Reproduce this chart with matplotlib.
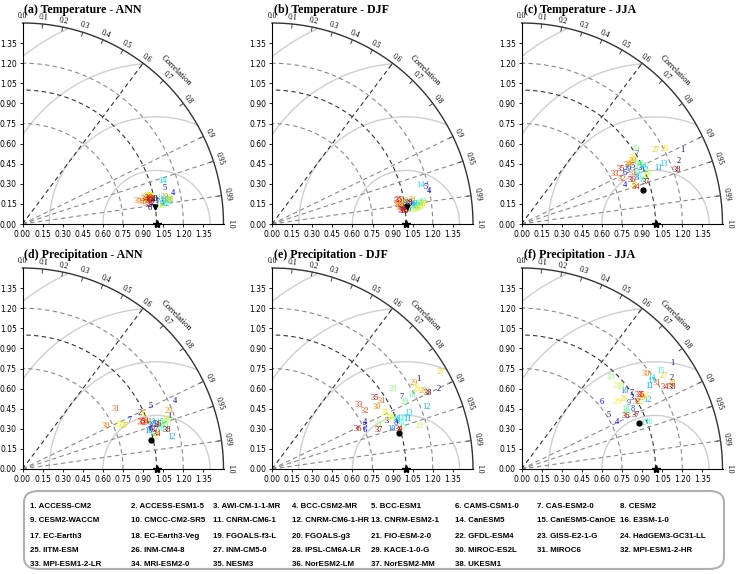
import numpy as np
import matplotlib.pyplot as plt
from matplotlib.patches import FancyBboxPatch

# ---- data: normalised std and correlation of 38 CMIP6 models vs. obs ----
models = ["ACCESS-CM2", "ACCESS-ESM1-5", "AWI-CM-1-1-MR", "BCC-CSM2-MR", "BCC-ESM1",
          "CAMS-CSM1-0", "CAS-ESM2-0", "CESM2", "CESM2-WACCM", "CMCC-CM2-SR5",
          "CNRM-CM6-1", "CNRM-CM6-1-HR", "CNRM-ESM2-1", "CanESM5", "CanESM5-CanOE",
          "E3SM-1-0", "EC-Earth3", "EC-Earth3-Veg", "FGOALS-f3-L", "FGOALS-g3",
          "FIO-ESM-2-0", "GFDL-ESM4", "GISS-E2-1-G", "HadGEM3-GC31-LL", "IITM-ESM",
          "INM-CM4-8", "INM-CM5-0", "IPSL-CM6A-LR", "KACE-1-0-G", "MIROC-ES2L",
          "MIROC6", "MPI-ESM1-2-HR", "MPI-ESM1-2-LR", "MRI-ESM2-0", "NESM3",
          "NorESM2-LM", "NorESM2-MM", "UKESM1"]

titles = ["(a) Temperature - ANN", "(b) Temperature - DJF", "(c) Temperature - JJA",
          "(d) Precipitation - ANN", "(e) Precipitation - DJF", "(f) Precipitation - JJA"]

tas_ann_std = [1.014, 0.983, 0.960, 1.144, 1.094, 0.958, 1.023, 0.977, 1.051, 0.997,
               1.064, 1.080, 1.075, 1.093, 1.103, 1.048, 1.082, 1.093, 1.107, 0.957,
               1.030, 1.058, 0.971, 0.938, 0.963, 0.983, 0.942, 1.115, 1.079, 0.877,
               0.904, 0.942, 0.967, 0.930, 0.955, 0.959, 0.972, 0.998]
tas_ann_cor = [0.986, 0.987, 0.989, 0.979, 0.969, 0.992, 0.987, 0.983, 0.990, 0.983,
               0.987, 0.990, 0.986, 0.956, 0.988, 0.983, 0.989, 0.988, 0.985, 0.982,
               0.990, 0.992, 0.978, 0.981, 0.976, 0.977, 0.977, 0.987, 0.983, 0.981,
               0.984, 0.987, 0.982, 0.979, 0.984, 0.980, 0.988, 0.982]

tas_djf_std = [1.008, 0.987, 0.965, 1.197, 1.181, 1.026, 1.040, 1.001, 1.058, 0.980,
               1.071, 1.089, 1.052, 1.147, 1.078, 1.037, 1.100, 1.112, 1.133, 1.107,
               1.015, 1.066, 0.983, 0.962, 1.128, 1.086, 1.140, 1.056, 1.005, 0.958,
               0.942, 0.969, 0.955, 0.995, 0.967, 0.976, 1.005, 1.033]
tas_djf_cor = [0.992, 0.993, 0.995, 0.978, 0.973, 0.994, 0.991, 0.989, 0.992, 0.990,
               0.990, 0.992, 0.988, 0.968, 0.993, 0.993, 0.991, 0.990, 0.989, 0.994,
               0.995, 0.995, 0.987, 0.988, 0.993, 0.995, 0.991, 0.985, 0.985, 0.992,
               0.987, 0.991, 0.984, 0.995, 0.982, 0.994, 0.995, 0.988]

tas_jja_std = [1.320, 1.261, 0.975, 0.823, 0.935, 0.859, 1.005, 0.925, 0.899, 0.895,
               1.103, 1.003, 1.152, 0.997, 0.944, 0.959, 0.942, 0.988, 0.979, 1.018,
               0.958, 0.997, 1.014, 0.889, 0.964, 1.208, 1.141, 0.927, 0.954, 0.904,
               0.913, 0.823, 0.792, 0.895, 0.846, 0.884, 0.976, 1.227]
tas_jja_cor = [0.909, 0.928, 0.903, 0.936, 0.888, 0.897, 0.856, 0.930, 0.890, 0.883,
               0.925, 0.917, 0.920, 0.902, 0.911, 0.939, 0.924, 0.890, 0.894, 0.835,
               0.877, 0.933, 0.927, 0.945, 0.861, 0.886, 0.876, 0.874, 0.870, 0.874,
               0.909, 0.911, 0.884, 0.950, 0.875, 0.928, 0.948, 0.945]

pr_ann_std = [1.170, 0.971, 1.006, 1.249, 1.064, 1.006, 0.881, 1.037, 0.981, 0.981,
              1.053, 1.135, 1.022, 1.007, 1.078, 1.073, 1.107, 1.091, 1.107, 1.036,
              1.148, 1.019, 0.810, 1.132, 0.783, 0.989, 0.825, 0.994, 1.172, 0.702,
              0.829, 0.953, 0.979, 1.033, 0.956, 1.066, 1.032, 1.118]
pr_ann_cor = [0.940, 0.901, 0.945, 0.913, 0.897, 0.954, 0.908, 0.945, 0.938, 0.958,
              0.950, 0.978, 0.939, 0.963, 0.946, 0.960, 0.949, 0.953, 0.957, 0.965,
              0.950, 0.972, 0.913, 0.945, 0.907, 0.910, 0.921, 0.936, 0.930, 0.890,
              0.844, 0.934, 0.930, 0.968, 0.931, 0.948, 0.960, 0.966]

pr_djf_std = [1.279, 1.375, 0.928, 0.774, 0.761, 0.748, 1.108, 0.981, 1.007, 0.939,
              1.076, 1.239, 1.103, 1.005, 1.051, 1.022, 1.018, 1.176, 1.109, 1.079,
              0.865, 1.146, 0.953, 0.968, 0.939, 1.235, 1.454, 1.268, 1.238, 0.906,
              0.966, 0.813, 0.808, 0.996, 0.935, 0.707, 0.851, 1.290]
pr_djf_cor = [0.852, 0.902, 0.921, 0.892, 0.907, 0.922, 0.876, 0.938, 0.934, 0.948,
              0.939, 0.928, 0.925, 0.926, 0.932, 0.939, 0.953, 0.884, 0.893, 0.834,
              0.925, 0.960, 0.913, 0.919, 0.894, 0.874, 0.866, 0.887, 0.856, 0.861,
              0.849, 0.849, 0.804, 0.954, 0.824, 0.905, 0.940, 0.899]

pr_jja_std = [1.379, 1.310, 0.976, 0.792, 0.763, 0.781, 0.999, 0.944, 0.938, 0.966,
              1.139, 1.072, 1.173, 1.185, 1.271, 1.012, 0.978, 0.900, 0.886, 0.958,
              0.969, 1.012, 0.943, 1.069, 0.877, 0.921, 1.269, 1.290, 1.044, 1.166,
              1.196, 0.995, 1.033, 1.232, 1.046, 0.874, 0.939, 1.280]
pr_jja_cor = [0.819, 0.855, 0.840, 0.897, 0.852, 0.768, 0.821, 0.879, 0.853, 0.797,
              0.839, 0.877, 0.827, 0.819, 0.818, 0.938, 0.936, 0.866, 0.880, 0.699,
              0.774, 0.870, 0.753, 0.860, 0.821, 0.825, 0.839, 0.868, 0.862, 0.793,
              0.845, 0.864, 0.847, 0.869, 0.851, 0.892, 0.905, 0.879]

# second observational dataset (black marker) per panel
obs2_std = [0.997, 1.018, 0.944, 0.985, 0.988, 0.940]
obs2_cor = [0.992, 0.992, 0.964, 0.975, 0.962, 0.930]

panel_std = [tas_ann_std, tas_djf_std, tas_jja_std, pr_ann_std, pr_djf_std, pr_jja_std]
panel_cor = [tas_ann_cor, tas_djf_cor, tas_jja_cor, pr_ann_cor, pr_djf_cor, pr_jja_cor]

SERIF = ["Liberation Serif", "DejaVu Serif"]
W, H = 746, 574
SMAX = 1.5


def taylor_frame(ax):
    t = np.linspace(0, np.pi / 2, 200)
    # RMS difference contours around the reference point
    for rr in [0.4, 0.8, 1.2, 1.6]:
        tt = np.linspace(0, np.pi, 400)
        x = 1 + rr * np.cos(tt)
        y = rr * np.sin(tt)
        ok = (x ** 2 + y ** 2 <= SMAX ** 2) & (x >= 0)
        x, y = np.where(ok, x, np.nan), np.where(ok, y, np.nan)
        ax.plot(x, y, color="#cfcfcf", lw=1.0, zorder=1)
    # std arcs
    for r, c in [(0.75, "#8a8a8a"), (1.0, "#333333"), (1.2, "#8a8a8a")]:
        ax.plot(r * np.cos(t), r * np.sin(t), color=c, lw=0.8, ls=(0, (4, 3)), zorder=1)
    # correlation rays
    for cc, c in [(0.6, "#333333"), (0.9, "#8a8a8a"), (0.95, "#8a8a8a"), (0.99, "#8a8a8a")]:
        th = np.arccos(cc)
        ax.plot([0, SMAX * np.cos(th)], [0, SMAX * np.sin(th)], color=c, lw=0.8,
                ls=(0, (4, 3)), zorder=1)
    # outer arc
    ax.plot(SMAX * np.cos(t), SMAX * np.sin(t), color="#333333", lw=1.0, zorder=2,
            clip_on=False)
    # correlation ticks and labels
    cvals = [0.0, 0.1, 0.2, 0.3, 0.4, 0.5, 0.6, 0.7, 0.8, 0.9, 0.95, 0.99, 1.0]
    for cv in cvals:
        th = np.arccos(cv)
        ax.plot([1.47 * np.cos(th), SMAX * np.cos(th)], [1.47 * np.sin(th), SMAX * np.sin(th)],
                color="#444444", lw=0.7, clip_on=False)
        lab = "%.2f" % cv if cv in (0.95, 0.99) else "%.1f" % cv
        ax.text(1.55 * np.cos(th), 1.55 * np.sin(th), lab, fontsize=5.5,
                rotation=np.degrees(th) - 90, rotation_mode="anchor",
                ha="center", va="center", family=SERIF, clip_on=False)
    th = np.radians(45)
    ax.text(1.62 * np.cos(th), 1.62 * np.sin(th), "Correlation", fontsize=6.2,
            rotation=-45, ha="center", va="center", family=SERIF, clip_on=False)

    ax.set_xlim(0, SMAX)
    ax.set_ylim(0, SMAX)
    ticks = np.arange(0, 1.36, 0.15)
    ax.set_xticks(ticks)
    ax.set_yticks(ticks)
    ax.set_xticklabels(["%.2f" % v for v in ticks])
    ax.set_yticklabels(["%.2f" % v for v in ticks])
    ax.tick_params(labelsize=5.5, length=2, width=0.6, pad=2)
    for s in ["top", "right"]:
        ax.spines[s].set_visible(False)
    for s in ["left", "bottom"]:
        ax.spines[s].set_linewidth(0.8)


fig = plt.figure(figsize=(W / 100, H / 100), dpi=100)
origins = [(22.5, 224), (272, 224), (521.5, 224), (22.5, 469), (272, 469), (521.5, 469)]
R = 201
cmap = plt.get_cmap("jet")
n = len(models)

for k in range(6):
    ox, oy = origins[k]
    ax = fig.add_axes([ox / W, 1 - oy / H, R / W, R / H])
    taylor_frame(ax)
    std = np.array(panel_std[k])
    cor = np.array(panel_cor[k])
    th = np.arccos(cor)
    xs, ys = std * np.cos(th), std * np.sin(th)
    for i in range(n):
        ax.text(xs[i], ys[i], str(i + 1), color=cmap(i / (n - 1)), fontsize=6,
                family=SERIF, ha="center", va="center", zorder=5)
    # reference (obs) star and second obs dataset
    ax.plot([1.0], [0.0], marker="*", color="black", ms=6, clip_on=False, zorder=6)
    th2 = np.arccos(obs2_cor[k])
    ax.plot([obs2_std[k] * np.cos(th2)], [obs2_std[k] * np.sin(th2)],
            marker="v" if k < 2 else "o", color="black", ms=3.5, zorder=6)
    fig.text((ox + 2) / W, 1 - (oy - 214) / H, titles[k], fontsize=8.6,
             fontweight="bold", family=SERIF, ha="left", va="center")

# model legend box
box = FancyBboxPatch((24 / W, 1 - 569 / H), 700 / W, 78 / H,
                     boxstyle="round,pad=0,rounding_size=0.02",
                     transform=fig.transFigure, facecolor="white",
                     edgecolor="#b0b0b0", lw=1.5)
fig.patches.append(box)
col_x = [30, 131, 213, 292, 371, 455, 537, 620]
row_y = [507, 521, 536, 550, 564]
for i, m in enumerate(models):
    r, c = divmod(i, 8)
    fig.text(col_x[c] / W, 1 - row_y[r] / H, "%d. %s" % (i + 1, m), fontsize=5.7,
             fontweight="bold", family=["Liberation Sans", "DejaVu Sans"],
             ha="left", va="center")

fig.savefig("out.png", dpi=100)
